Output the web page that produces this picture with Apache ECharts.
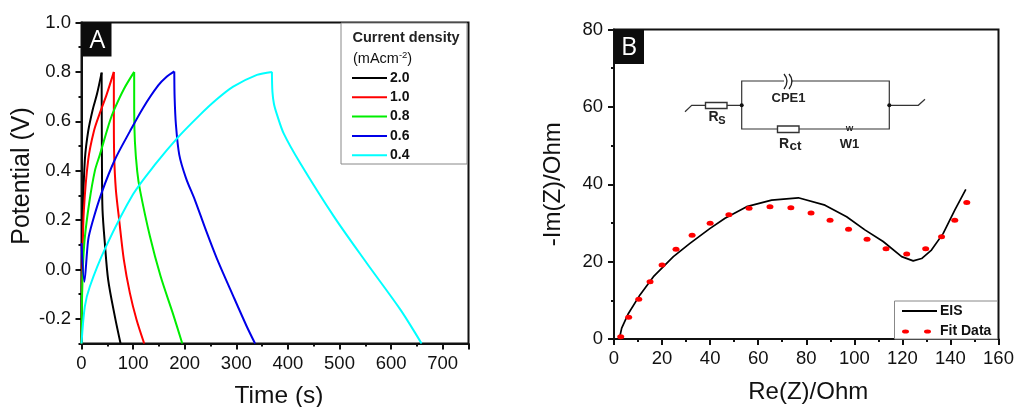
<!DOCTYPE html>
<html><head><meta charset="utf-8">
<style>html,body{margin:0;padding:0;background:#fff}#c{width:1014px;height:407px}</style>
<script src="https://cdn.jsdelivr.net/npm/echarts@6/dist/echarts.min.js"></script>
</head><body><div id="c"></div>
<script>
const densityNames = ['2.0','1.0','0.8','0.6','0.4'];
const densityColors = ['#000000','#ff0000','#00ee00','#0000e8','#00ffff'];
const charge20 = [[0,-0.3],[0.5,0],[2,0.2],[6.5,0.444],[13,0.56],[21.7,0.647],[30,0.71],[39,0.797]];
const discharge20 = [[39,0.797],[39.3,0.6],[39.7,0.4],[40.7,0.242],[45.2,0.107],[51.7,-0.042],[64.6,-0.19],[75.7,-0.3]];
const charge10 = [[0,-0.3],[1,-0.1],[2,0.05],[4.6,0.24],[13,0.444],[24,0.56],[35.5,0.633],[48.5,0.707],[62.7,0.8]];
const discharge10 = [[62.7,0.8],[62.7,0.626],[63.3,0.464],[66.6,0.323],[73,0.201],[82.1,0.039],[93.8,-0.096],[106.7,-0.204],[121.5,-0.3]];
const charge08 = [[0,-0.3],[1,-0.12],[2.5,0],[6,0.12],[15,0.27],[26,0.4],[35.5,0.464],[54.9,0.6],[64,0.65],[82,0.73],[102.1,0.8]];
const discharge08 = [[102.1,0.8],[102.1,0.653],[103.5,0.518],[108,0.397],[113.2,0.323],[132.6,0.134],[153.3,-0.028],[177.8,-0.183],[195.3,-0.3]];
const charge06 = [[0,0.107],[5.5,-0.05],[13,0.12],[21,0.19],[38.8,0.309],[64.6,0.444],[93.8,0.559],[119.6,0.655],[148.7,0.745],[165,0.78],[179.8,0.802]];
const discharge06 = [[179.8,0.802],[180.5,0.694],[183,0.586],[189.5,0.464],[202.5,0.37],[220,0.28],[240,0.165],[262,0.046],[294.3,-0.109],[320.3,-0.231],[336.4,-0.3]];
const charge04 = [[0,-0.3],[6.5,-0.15],[16,-0.07],[47,0.09],[100.2,0.305],[142.3,0.424],[185.6,0.532],[229.6,0.626],[260,0.685],[294,0.74],[340,0.788],[369,0.8]];
const discharge04 = [[369,0.8],[370,0.72],[373,0.67],[379,0.626],[392,0.55],[424,0.43],[489,0.215],[553,0.025],[618,-0.163],[659,-0.3]];
const potentialTicks = [-0.2,0,0.2,0.4,0.6,0.8,1.0];
const potentialMinorTicks = [-0.3,-0.1,0.1,0.3,0.5,0.7,0.9];
const eisData = [[2.2,0],[3.2,2.8],[6,6.6],[10.8,11.4],[16.4,16.1],[24.7,21.3],[31.6,24.7],[40,28.6],[46.2,31.2],[55.2,34.2],[65.6,35.9],[76.7,36.5],[87.8,34.6],[96.8,31.6],[104.4,28.2],[112,25.2],[119.7,21.3],[124.5,20.2],[128,20.8],[132.1,23],[137,27.3],[141.8,33.3],[146.4,38.7]];
const fitData = [[2.8,0.6],[6.1,5.6],[10.3,10.3],[15,14.8],[20,19.1],[25.8,23.2],[32.5,26.8],[40,29.9],[47.8,32.1],[56.2,33.8],[64.9,34.2],[73.6,33.9],[82,32.6],[89.9,30.7],[97.6,28.4],[105.3,25.8],[113.2,23.3],[121.8,22],[129.7,23.3],[136.3,26.4],[141.8,30.7],[146.8,35.3]];
const curves = [[charge20,discharge20],[charge10,discharge10],[charge08,discharge08],[charge06,discharge06],[charge04,discharge04]];

const FONT = '"Liberation Sans", Arial, sans-serif';
const ink = '#111';
const lab = {fontFamily:FONT,fontSize:18.5,color:ink};
const line = {show:true,onZero:false,lineStyle:{color:ink,width:2}};
const tick = {show:true,length:6,lineStyle:{color:ink,width:2}};
const minor = {show:true,splitNumber:2,length:3,lineStyle:{color:ink,width:2}};
const nameStyle = {fontFamily:FONT,fontSize:24,color:ink};
const wire = '#333';
const seg = pts => ({type:'polyline',silent:true,shape:{points:pts},style:{stroke:wire,lineWidth:1.2,fill:null}});
const box = (x,y,w,h) => ({type:'rect',silent:true,z:5,shape:{x,y,width:w,height:h},style:{fill:'#fff',stroke:wire,lineWidth:1.4}});
const dot = (x,y) => ({type:'circle',silent:true,z:5,shape:{cx:x,cy:y,r:2},style:{fill:'#111'}});
const txt = (x,y,t,o={}) => ({type:'text',silent:true,z:6,x,y,style:Object.assign({text:t,fontFamily:FONT,fontSize:13,fontWeight:'bold',fill:'#222',textAlign:'center',textVerticalAlign:'middle'},o)});
const arc = (x) => ({type:'bezierCurve',silent:true,z:6,shape:{x1:x,y1:74,cpx1:x+6,cpy1:81,x2:x,y2:89},style:{stroke:'#222',lineWidth:1.3,fill:null}});

const option = {
  animation:false, backgroundColor:'#fff',
  grid:[
    {left:81.5,top:22.5,width:387,height:321,outerBoundsMode:'none',show:true,borderColor:ink,borderWidth:2,backgroundColor:'transparent'},
    {left:614,top:29.5,width:384.5,height:309.5,outerBoundsMode:'none',show:true,borderColor:ink,borderWidth:2,backgroundColor:'transparent'}
  ],
  xAxis:[
    {type:'value',gridIndex:0,min:0,max:750,interval:100,name:'Time (s)',nameLocation:'middle',nameGap:40.5,nameTextStyle:Object.assign({},nameStyle,{fontSize:24.5,padding:[0,0,0,8]}),
     axisLine:line,axisTick:tick,minorTick:minor,axisLabel:Object.assign({showMaxLabel:false,margin:11},lab),splitLine:{show:false},minorSplitLine:{show:false}},
    {type:'value',gridIndex:1,min:0,max:160,interval:20,name:'Re(Z)/Ohm',nameLocation:'middle',nameGap:41.5,nameTextStyle:Object.assign({},nameStyle,{padding:[0,0,0,4]}),
     axisLine:line,axisTick:tick,minorTick:minor,axisLabel:Object.assign({margin:10},lab),splitLine:{show:false}}
  ],
  yAxis:[
    {type:'value',gridIndex:0,min:-0.3,max:1,name:'Potential (V)',nameLocation:'middle',nameGap:47,nameTextStyle:Object.assign({},nameStyle,{fontSize:25,padding:[0,0,0,14]}),
     axisLine:line,axisTick:Object.assign({customValues:potentialTicks},tick),
     axisLabel:Object.assign({customValues:potentialTicks,formatter:v=>v.toFixed(1),margin:10.5},lab),splitLine:{show:false}},
    {type:'value',gridIndex:1,min:0,max:80,interval:20,name:'-Im(Z)/Ohm',nameLocation:'middle',nameGap:49,nameTextStyle:nameStyle,
     axisLine:line,axisTick:tick,minorTick:minor,axisLabel:Object.assign({margin:11},lab),splitLine:{show:false}},
    {type:'value',gridIndex:0,min:-0.3,max:1,position:'left',axisLine:{show:false},
     axisTick:{show:true,length:3,customValues:potentialMinorTicks,lineStyle:{color:ink,width:2}},axisLabel:{show:false},splitLine:{show:false}}
  ],
  legend:[
    {left:352,top:71,orient:'vertical',itemWidth:35,itemHeight:2,itemGap:5.3,padding:0,selectedMode:false,icon:'rect',
     data:densityNames,textStyle:{fontFamily:FONT,fontSize:14,fontWeight:'bold',color:ink,padding:[0,0,0,-2]}},
    {left:902,top:304,orient:'vertical',itemWidth:35,itemHeight:4,itemGap:6.5,padding:0,selectedMode:false,
     data:[{name:'EIS',icon:'path://M0,1.1L35,1.1L35,2.9L0,2.9ZM0,0L0,0M0,4L0,4'},{name:'Fit Data',icon:'path://M0,2a3.5,2 0 1,0 7,0a3.5,2 0 1,0 -7,0ZM22,2a3.5,2 0 1,0 7,0a3.5,2 0 1,0 -7,0ZM35,2L35,2M35,0L35,0M35,4L35,4'}],
     textStyle:{fontFamily:FONT,fontSize:14,fontWeight:'bold',color:ink,padding:[0,0,0,-2]}}
  ],
  series:[
    ...curves.flatMap((pair,i)=>pair.map(d=>({name:densityNames[i],type:'line',xAxisIndex:0,yAxisIndex:0,data:d,showSymbol:false,symbol:'none',smooth:0.3,
      lineStyle:{color:densityColors[i],width:2},itemStyle:{color:densityColors[i]},z:2+i}))),
    {name:'EIS',type:'line',xAxisIndex:1,yAxisIndex:1,data:eisData,symbol:'none',lineStyle:{color:'#000',width:1.7},itemStyle:{color:'#000'},z:3},
    {name:'Fit Data',type:'scatter',xAxisIndex:1,yAxisIndex:1,data:fitData,symbol:'circle',symbolSize:[7,5],itemStyle:{color:'#ff0000',opacity:1},z:4}
  ],
  graphic:[
    {type:'rect',silent:true,z:6,shape:{x:81.5,y:22.5,width:30,height:34},style:{fill:'#0c0c0c'}},
    {type:'rect',silent:true,z:6,shape:{x:614,y:29.5,width:30,height:34.5},style:{fill:'#0c0c0c'}},
    txt(97.5,41,'A',{fontFamily:'"Open Sans"',fontSize:25,fontWeight:'normal',fill:'#fff'}),
    txt(629,48,'B',{fontFamily:'"Open Sans"',fontSize:25,fontWeight:'normal',fill:'#fff'}),
    {type:'rect',silent:true,z:1,shape:{x:341,y:23,width:126,height:141},style:{fill:'#fff',stroke:'#888',lineWidth:1}},
    {type:'rect',silent:true,z:1,shape:{x:894.5,y:301,width:103,height:38},style:{fill:'#fff',stroke:'#888',lineWidth:1}},
    txt(406,38,'Current density',{fontSize:14.5}),
    {type:'text',silent:true,z:6,x:353,y:59,style:{text:'(mAcm{s|-2})',fontFamily:FONT,fontSize:14.5,fill:ink,textVerticalAlign:'middle',rich:{s:{fontFamily:FONT,fontSize:9.5,verticalAlign:'top',fill:ink,padding:[0,0,7,0]}}}},
    seg([[685,111.7],[691.7,105.3],[741.7,105.3]]),
    seg([[741.7,105.3],[741.7,81],[889.3,81],[889.3,129],[741.7,129],[741.7,105.3]]),
    seg([[889.3,105.3],[918.3,105.3],[925,99.3]]),
    box(705.5,102.5,21.5,6), box(777.5,126,21.5,6.5),
    dot(741.7,105.3), dot(889.3,105.3),
    {type:'rect',silent:true,z:5,shape:{x:784,y:76,width:7,height:10},style:{fill:'#fff'}},
    arc(784), arc(789),
    txt(788.5,98.5,'CPE1'),
    txt(713.5,117.5,'R',{fontSize:14}), txt(722,121,'S',{fontSize:11}),
    txt(784,144,'R',{fontSize:14}), txt(795.5,146.5,'ct',{fontSize:13.5}),
    txt(849.5,129,'W',{fontSize:8}),
    txt(849.5,144,'W1')
  ]
};
const chart = echarts.init(document.getElementById('c'),null,{renderer:'canvas'});
chart.setOption(option);
</script></body></html>
